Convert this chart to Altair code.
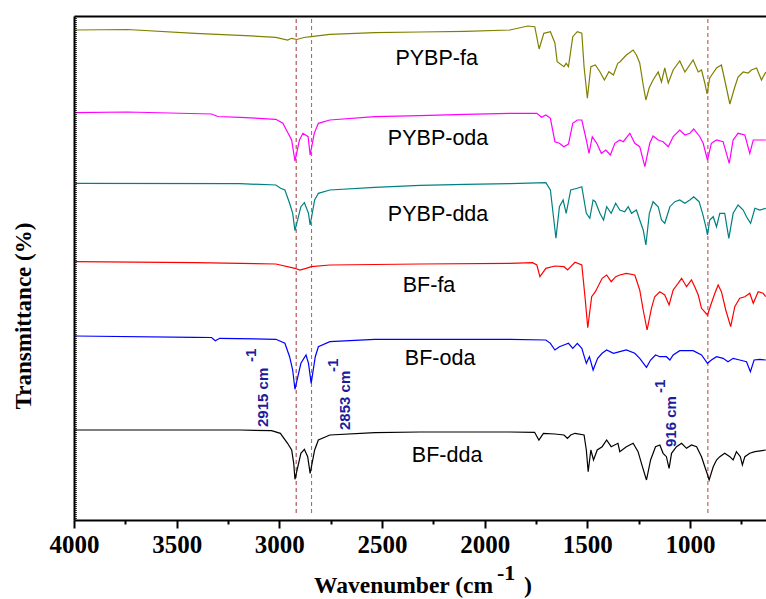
import altair as alt
import pandas as pd

series_names = ["PYBP-fa", "PYBP-oda", "PYBP-dda", "BF-fa", "BF-oda", "BF-dda"]
series_colors = ["#808000", "#FF00FF", "#008080", "#FF0000", "#0000FF", "#000000"]

# PYBP-fa
wn_pybp_fa = [3996, 3740, 3411, 3192, 3017, 2960, 2940, 2915, 2880, 2845, 2754, 2535, 2316, 2096, 1877,
              1790, 1756, 1735, 1712, 1680, 1658, 1647, 1614, 1603, 1592, 1571, 1549, 1527, 1516, 1500,
              1483, 1461, 1439, 1417, 1395, 1373, 1352, 1342, 1310, 1277, 1261, 1245, 1228, 1215, 1199,
              1180, 1155, 1139, 1123, 1106, 1082, 1050, 1025, 985, 960, 944, 928, 917, 904, 871,
              847, 831, 806, 782, 766, 741, 717, 701, 676, 652, 631]
t_pybp_fa = [490, 490.5, 486.7, 484.7, 482.7, 480, 481.7, 480.5, 482.5, 483.3, 485.7, 487.3, 488, 488.7, 490,
             494, 493.3, 471, 486.7, 488.3, 477, 458.3, 453.3, 456.7, 453.3, 483.3, 488.3, 486.7, 453.3, 421.7,
             453.3, 455, 448.3, 440, 448.3, 445, 456.7, 458, 465, 470, 465, 457, 435, 420, 432,
             440, 448, 438, 452, 437, 450, 459, 448, 460, 448, 450, 437, 426, 442, 452,
             455, 440, 416, 433, 443, 448, 447, 450, 452, 440, 448]

# PYBP-oda
wn_pybp_oda = [3996, 3740, 3330, 3300, 3192, 3017, 2983, 2961, 2940, 2924, 2902, 2885, 2860, 2850, 2830,
               2810, 2754, 2535, 2316, 2096, 1877, 1746, 1723, 1702, 1680, 1658, 1636, 1614, 1592, 1571,
               1549, 1527, 1505, 1492, 1476, 1454, 1432, 1410, 1388, 1366, 1342, 1325, 1293, 1269, 1245,
               1220, 1196, 1180, 1155, 1131, 1106, 1082, 1050, 1025, 1001, 982, 952, 936, 915, 896,
               871, 839, 809, 790, 766, 733, 709, 692, 660, 631]
t_pybp_oda = [407.3, 408, 406, 403.5, 402.7, 400.7, 396.7, 388.3, 380, 359, 380, 386.7, 383.3, 365, 386.7,
              396.7, 400, 403.3, 404.3, 405.7, 406.7, 406.7, 402.7, 405, 401.7, 378.3, 376.7, 373.3, 376, 396.7,
              400, 400, 380, 366.7, 383.3, 376.7, 366.7, 370, 365, 376.7, 380, 378.3, 386.7, 376.7, 373.3,
              353.3, 376.7, 384, 380, 378.3, 373.3, 383.3, 390, 385, 386.7, 391, 383.3, 376.7, 360, 376.7,
              380, 378.3, 356.7, 380, 386.7, 385, 366.7, 380, 380, 380]

# PYBP-dda
wn_pybp_dda = [3996, 3192, 3017, 2994, 2973, 2950, 2935, 2924, 2895, 2878, 2858, 2850, 2828, 2810, 2754,
               2535, 2316, 2096, 1877, 1702, 1680, 1653, 1636, 1618, 1603, 1581, 1549, 1527, 1505, 1488,
               1472, 1461, 1439, 1421, 1406, 1384, 1362, 1342, 1318, 1301, 1285, 1261, 1245, 1228, 1215,
               1198, 1180, 1155, 1139, 1123, 1098, 1074, 1050, 1025, 1001, 982, 956, 939, 923, 915,
               904, 887, 871, 855, 831, 811, 790, 766, 741, 725, 705, 684, 660, 631]
t_pybp_dda = [336.7, 336.3, 335, 331.7, 330, 316.7, 306.7, 289.3, 313.3, 317.3, 306.7, 295, 320, 326.7, 330,
              332.7, 334.7, 335.7, 336.3, 337.3, 330, 281.7, 313.3, 320, 306.7, 330, 331.7, 333.3, 306.7, 301.7,
              320, 318.3, 306.7, 300, 313.3, 306.7, 316.7, 310, 308.3, 313.3, 306.7, 310, 300, 290, 275,
              306.7, 318.3, 313.3, 300, 296.7, 313.3, 318.3, 320, 316.7, 320, 323.3, 318.3, 306.7, 293.3, 285,
              300, 303.3, 293.3, 306.7, 306.7, 281.7, 306.7, 315, 310, 303.3, 296.7, 311.7, 310, 311.7]

# BF-fa
wn_bf_fa = [3996, 3411, 3017, 2924, 2900, 2870, 2845, 2754, 2316, 1877, 1767, 1746, 1731, 1702, 1658,
            1614, 1596, 1581, 1560, 1527, 1510, 1498, 1479, 1461, 1428, 1406, 1384, 1362, 1342, 1310,
            1269, 1245, 1228, 1209, 1188, 1172, 1147, 1123, 1102, 1082, 1058, 1041, 1017, 993, 977,
            960, 944, 915, 896, 879, 863, 847, 826, 802, 782, 758, 733, 709, 692, 668, 644, 631]
t_bf_fa = [258.3, 257.3, 256, 251.7, 250, 251.7, 253.3, 255, 256, 256.7, 257.3, 255, 243.3, 251.7, 254,
           253.3, 250, 253.3, 257.7, 255, 220, 192.3, 223.3, 228.3, 241.7, 245, 238.3, 243.3, 245, 246.7,
           245, 230, 210, 190, 211.7, 223.3, 228.3, 225, 215, 230, 236.7, 241.7, 233.3, 240, 233.3,
           225, 211.7, 205, 216.7, 226.7, 235, 228.3, 210, 193.3, 213.3, 221.7, 223.3, 226.7, 216.7, 228.3, 226.7, 223.3]

# BF-oda
wn_bf_oda = [3996, 3411, 3330, 3312, 3290, 3017, 2973, 2950, 2935, 2924, 2895, 2870, 2858, 2845, 2825,
             2810, 2754, 2535, 1877, 1702, 1680, 1658, 1636, 1614, 1592, 1571, 1549, 1527, 1505, 1490,
             1472, 1450, 1428, 1406, 1373, 1342, 1310, 1269, 1245, 1212, 1192, 1168, 1147, 1115, 1098,
             1082, 1050, 985, 944, 915, 896, 871, 839, 815, 790, 758, 725, 706, 688, 660, 631]
t_bf_oda = [184, 182.7, 182.5, 179.3, 181.7, 180.7, 176.7, 163.3, 150, 130.7, 156.7, 165, 156.7, 136.7, 163.3,
            173.3, 178.3, 180.7, 180.7, 180, 176.7, 170, 173.3, 175, 176.7, 171.7, 176.7, 171.7, 156.7, 163.3,
            150, 161.7, 166.7, 170, 166.7, 168.3, 170, 166.7, 161.7, 152.7, 160, 165, 163.3, 163.3, 160,
            165, 169.3, 169.3, 165, 156.7, 160, 163.3, 161.7, 158.3, 161.7, 160, 158.3, 148.3, 160, 160.7, 160]

# BF-dda
wn_bf_dda = [3996, 3192, 3038, 2995, 2960, 2940, 2930, 2924, 2895, 2878, 2862, 2850, 2828, 2810, 2754,
             2535, 2316, 1877, 1757, 1736, 1714, 1658, 1614, 1597, 1581, 1560, 1516, 1505, 1496, 1483,
             1470, 1452, 1428, 1406, 1384, 1351, 1342, 1310, 1277, 1253, 1232, 1212, 1192, 1168, 1147,
             1131, 1115, 1102, 1090, 1066, 1041, 1017, 993, 968, 944, 928, 917, 907, 887, 871,
             855, 831, 806, 790, 774, 755, 745, 733, 709, 684, 631]
t_bf_dda = [90, 90, 89.3, 86.7, 76.7, 70, 56.7, 40.7, 66.7, 70.7, 63.3, 46.7, 70, 80, 85,
            87.3, 88, 88, 87.7, 80, 86.7, 86, 85, 81.7, 85, 86.7, 85, 70, 48.3, 70,
            60, 70, 73.3, 80, 73.3, 76.7, 68.3, 73.3, 76.7, 68.3, 53.3, 40, 60, 73.3, 75,
            66.7, 63.3, 51.7, 66.7, 73.3, 76.7, 71.7, 75, 73.3, 63.3, 53.3, 46.7, 40, 53.3, 60,
            63.3, 66.7, 63.3, 60, 68.3, 63.3, 55, 63.3, 66.7, 68.3, 70]

x_ticks = [750, 1000, 1250, 1500, 1750, 2000, 2250, 2500, 2750, 3000, 3250, 3500, 3750, 4000]

# series name labels (anchor in data coordinates)
label_wn = [2234, 2227, 2227, 2271, 2217, 2183]
label_t = [455, 375, 299, 228, 155, 58]

# marked peaks
peak_line_wn = [2918, 2843, 913]
peak_line_color = ["#a03535", "#c25555", "#b84040"]
peak_text = ["2915 cm", "2853 cm", "916 cm"]
peak_text_wn = [3082, 2680, 1092]
peak_text_t = [93, 90, 73]
peak_sup_wn = [3138, 2739, 1146]
peak_sup_t = [158, 148, 127]

frames = []
for name, wn, t in zip(series_names,
                       [wn_pybp_fa, wn_pybp_oda, wn_pybp_dda, wn_bf_fa, wn_bf_oda, wn_bf_dda],
                       [t_pybp_fa, t_pybp_oda, t_pybp_dda, t_bf_fa, t_bf_oda, t_bf_dda]):
    frames.append(pd.DataFrame({"wavenumber": wn, "T": t, "sample": name}))
spectra = pd.concat(frames, ignore_index=True)

labels_df = pd.DataFrame({"wavenumber": label_wn, "T": label_t, "sample": series_names})
peaks_df = pd.DataFrame({"wavenumber": peak_line_wn, "color": peak_line_color})
peak_text_df = pd.DataFrame({"wavenumber": peak_text_wn, "T": peak_text_t, "text": peak_text})
peak_sup_df = pd.DataFrame({"wavenumber": peak_sup_wn, "T": peak_sup_t, "text": ["-1"] * 3})

W, H = 692, 504
xscale = alt.Scale(domain=[630, 4000], reverse=True, nice=False, zero=False)
yscale = alt.Scale(domain=[0, 504], nice=False, zero=False)

x_bottom_axis = alt.Axis(
    orient="bottom", values=x_ticks, format="d",
    labelExpr="datum.value % 500 === 0 ? datum.label : ''",
    tickSize={"condition": {"test": "datum.value % 500 === 0", "value": 8}, "value": 4},
    tickWidth=2, tickColor="black", domainWidth=2, domainColor="black",
    labelFont="Liberation Serif", labelFontSize=25, labelFontWeight="bold", labelColor="black",
    labelPadding=4, labelFlush=False, labelOverlap=False, grid=False, title=None,
)
y_left_axis = alt.Axis(orient="left", domainWidth=2, domainColor="black", ticks=False,
                       labels=False, grid=False, title=None)

lines = alt.Chart(spectra).mark_line(strokeWidth=1.2).encode(
    x=alt.X("wavenumber:Q", scale=xscale, axis=x_bottom_axis),
    y=alt.Y("T:Q", scale=yscale, axis=y_left_axis),
    color=alt.Color("sample:N", scale=alt.Scale(domain=series_names, range=series_colors), legend=None),
    detail="sample:N",
)

rules = alt.Chart(peaks_df).mark_rule(strokeWidth=1, strokeDash=[4, 3]).encode(
    x=alt.X("wavenumber:Q", scale=xscale,
            axis=alt.Axis(orient="top", labels=False, ticks=False, domainWidth=2,
                          domainColor="black", grid=False, title=None)),
    y=alt.value(3), y2=alt.value(500),
    color=alt.Color("color:N", scale=None),
)

name_text = alt.Chart(labels_df).mark_text(
    font="Liberation Sans", fontSize=21.5, align="center", baseline="alphabetic", color="black"
).encode(
    x=alt.X("wavenumber:Q", scale=xscale, axis=None),
    y=alt.Y("T:Q", scale=yscale, axis=None),
    text="sample:N",
)

peak_label = alt.Chart(peak_text_df).mark_text(
    font="Liberation Sans", fontSize=15, fontWeight="bold", angle=270, align="left",
    baseline="middle", color="#1c1c9c"
).encode(
    x=alt.X("wavenumber:Q", scale=xscale, axis=None),
    y=alt.Y("T:Q", scale=yscale, axis=None),
    text="text:N",
)

peak_sup = alt.Chart(peak_sup_df).mark_text(
    font="Liberation Sans", fontSize=15, fontWeight="bold", angle=270, align="left",
    baseline="middle", color="#1c1c9c"
).encode(
    x=alt.X("wavenumber:Q", scale=xscale, axis=None),
    y=alt.Y("T:Q", scale=yscale, axis=None),
    text="text:N",
)

one = pd.DataFrame({"k": [0]})

left_dots = alt.Chart(one).mark_rule(strokeWidth=1.5, strokeDash=[1, 1], color="black").encode(
    x=alt.value(2), y=alt.value(0), y2=alt.value(H)
)

y_title = alt.Chart(one).mark_text(
    text="Transmittance (%)", font="Liberation Serif", fontSize=23, fontWeight="bold",
    angle=270, align="center", baseline="middle", color="black"
).encode(x=alt.value(-50), y=alt.value(300))

x_title_main = alt.Chart(one).mark_text(
    text="Wavenumber (cm", font="Liberation Serif", fontSize=23.5, fontWeight="bold",
    align="left", baseline="alphabetic", color="black"
).encode(x=alt.value(314 - 74), y=alt.value(593 - 16))

x_title_sup = alt.Chart(one).mark_text(
    text="-1", font="Liberation Serif", fontSize=22, fontWeight="bold",
    align="left", baseline="alphabetic", color="black"
).encode(x=alt.value(497 - 74), y=alt.value(580 - 16))

x_title_end = alt.Chart(one).mark_text(
    text=")", font="Liberation Serif", fontSize=24, fontWeight="bold",
    align="left", baseline="alphabetic", color="black"
).encode(x=alt.value(524 - 74), y=alt.value(593 - 16))

chart = alt.layer(
    rules, lines, name_text, peak_label, peak_sup, left_dots, y_title,
    x_title_main, x_title_sup, x_title_end
).resolve_axis(x="independent", y="independent").properties(
    width=W, height=H,
    autosize=alt.AutoSizeParams(type="none"),
    padding={"left": 74, "top": 16, "right": 0, "bottom": 79},
    background="white",
).configure_view(stroke=None).configure_axis(
    labelFont="Liberation Serif", labelFontSize=25, labelFontWeight="bold", labelColor="black"
)

chart.save("out.html", embed_options={"renderer": "svg", "actions": False})
